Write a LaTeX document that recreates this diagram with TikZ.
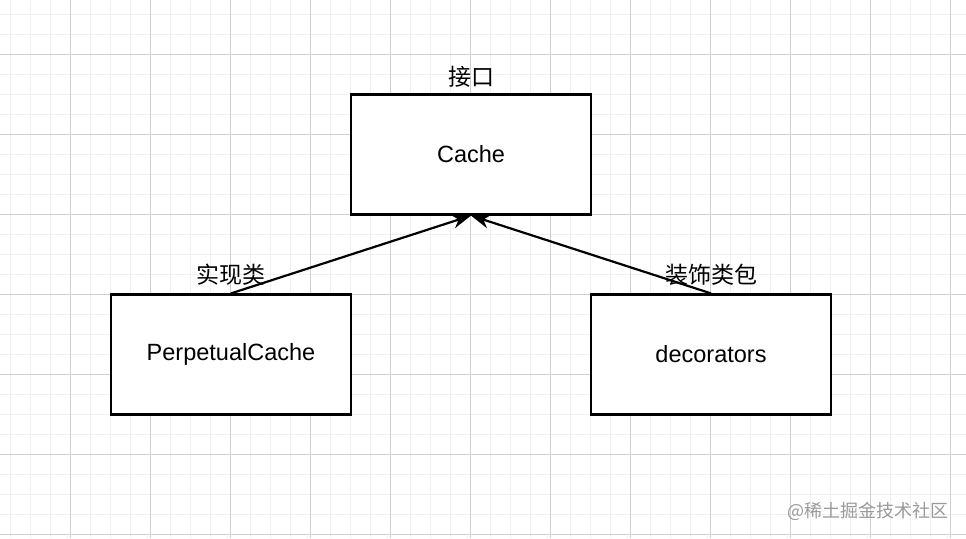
\documentclass[tikz,border=0pt]{standalone}
\usepackage{fontspec}
\setmainfont{Liberation Sans}
\newfontfamily\cjk{Noto Sans CJK SC}
\usetikzlibrary{arrows.meta}
\definecolor{minorgrid}{HTML}{F0F0F0}
\definecolor{majorgrid}{HTML}{D0D0D0}
\definecolor{wm}{HTML}{9A9A9A}
\tikzset{
  minorline/.style={draw=minorgrid, line width=1pt},
  majorline/.style={draw=majorgrid, line width=1pt},
  classbox/.style={draw=black, fill=white, line width=2.2pt, minimum width=240pt, minimum height=120pt, inner sep=0pt, font=\fontsize{23.5}{23.5}\selectfont},
  lbl/.style={inner sep=0pt, font=\cjk\fontsize{23}{23}\selectfont},
  conn/.style={draw=black, line width=2.2pt, -{Stealth[length=19pt,width=14pt,inset=6pt]}},
}
\begin{document}
\begin{tikzpicture}[x=1pt,y=-1pt]
\useasboundingbox (0,0) rectangle (966,538);
\fill[white] (0,0) rectangle (966,538);
\foreach \x in {10,30,...,950} \draw[minorline] (\x,0) -- (\x,538);
\foreach \y in {14,34,...,534} \draw[minorline] (0,\y) -- (966,\y);
\foreach \x in {70,150,...,950} \draw[majorline] (\x,0) -- (\x,538);
\foreach \y in {54,134,...,534} \draw[majorline] (0,\y) -- (966,\y);

\node[classbox] (cache) at (471,154.5) {Cache};
\node[classbox] (perp) at (231,354.5) {PerpetualCache};
\node[classbox] (deco) at (711,354.5) {decorators};

\draw[conn] (perp.north) -- (cache.south);
\draw[conn] (deco.north) -- (cache.south);

\node[lbl] (l1) at (471,77) {接口};
\node[lbl] (l2) at (231,275) {实现类};
\node[lbl] (l3) at (711,275) {装饰类包};

\node[inner sep=0pt, text=wm, font=\cjk\fontsize{18}{18}\selectfont] (wmark) at (868,511) {@稀土掘金技术社区};
\end{tikzpicture}
\end{document}
